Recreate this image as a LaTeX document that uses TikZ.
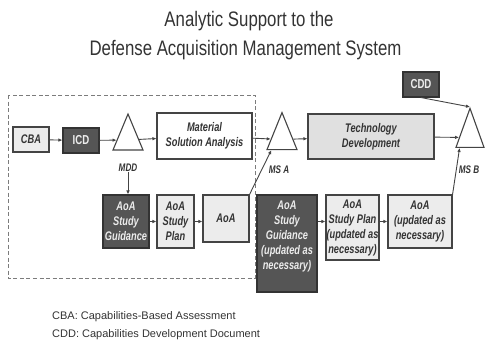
\documentclass[tikz,border=0pt]{standalone}
\usepackage{fontspec}
\usetikzlibrary{arrows.meta,shapes.geometric}
\setmainfont{Liberation Sans}
\newfontfamily\titlefont[FakeStretch=0.8]{Liberation Sans}
\newfontfamily\boxfont[FakeStretch=0.74]{Liberation Sans}
\definecolor{darkfill}{HTML}{555555}
\definecolor{lightfill}{HTML}{ECECEC}
\definecolor{midfill}{HTML}{E0E0E0}
\definecolor{edge}{HTML}{444444}
\definecolor{ink}{HTML}{333333}
\tikzset{
  base/.style={draw=edge, line width=1.1pt, inner sep=0pt, align=center,
    font=\boxfont\fontsize{12.5}{15}\selectfont\bfseries\itshape, text=ink},
  whitebox/.style={base, fill=white},
  lightbox/.style={base, fill=lightfill},
  darkbox/.style={base, fill=darkfill, draw=ink, text=lightfill},
  milestone/.style={draw=edge, line width=1.1pt, fill=white, isosceles triangle,
    isosceles triangle stretches, shape border rotate=90, inner sep=0pt},
  mslabel/.style={font=\boxfont\fontsize{11}{12}\selectfont\bfseries\itshape, text=ink, inner sep=0pt},
  flow/.style={draw=edge, line width=0.9pt, -{Latex[length=4pt,width=3.6pt]}},
  region/.style={draw=edge!70, line width=0.9pt, dash pattern=on 4pt off 2.5pt},
}
\begin{document}
\begin{tikzpicture}[x=1pt,y=-1pt]
\useasboundingbox (0,0) rectangle (485,343);

% title
\node[font=\titlefont\fontsize{21}{24}\selectfont, text=ink, anchor=base] (t1) at (249,26) {Analytic Support to the};
\node[font=\titlefont\fontsize{21}{24}\selectfont, text=ink, anchor=base] (t2) at (245.5,55) {Defense Acquisition Management System};

% scope of the analysis of alternatives before milestone A
\draw[region] (8,95) rectangle (255,278);

% top row
\node[lightbox, minimum width=36pt, minimum height=25pt] (cba) at (31,139.5) {CBA};
\node[darkbox, font=\boxfont\fontsize{13}{14}\selectfont\bfseries, minimum width=36pt, minimum height=25pt] (icd) at (81,140.5) {ICD};
\node[milestone, minimum width=30pt, minimum height=36pt] (mdd) at (128,140) {};
\node[mslabel] (mddlbl) at (128,168) {MDD};
\node[whitebox, minimum width=95pt, minimum height=46pt] (msa) at (204.5,136) {Material\\Solution Analysis};
\node[milestone, minimum width=30pt, minimum height=37pt] (msA) at (282,139.5) {};
\node[mslabel] (msAlbl) at (279,170) {MS A};
\node[lightbox, fill=midfill, minimum width=126pt, minimum height=45pt] (td) at (371,136.5) {Technology\\Development};
\node[milestone, minimum width=28pt, minimum height=39pt] (msB) at (470,137.5) {};
\node[mslabel] (msBlbl) at (469,170) {MS B};
\node[darkbox, font=\boxfont\fontsize{13}{14}\selectfont\bfseries, minimum width=36pt, minimum height=25pt] (cdd) at (421,84.5) {CDD};

% bottom row
\node[darkbox, minimum width=46pt, minimum height=53pt] (guid) at (126,221.5) {AoA\\Study\\Guidance};
\node[lightbox, minimum width=37pt, minimum height=53pt] (plan) at (175.5,221.5) {AoA\\Study\\Plan};
\node[lightbox, minimum width=46pt, minimum height=47pt] (aoa) at (226,218.5) {AoA};
\node[darkbox, minimum width=60pt, minimum height=97pt] (guid2) at (287,243.5) {AoA\\Study\\Guidance\\(updated as\\necessary)\rule[-17pt]{0pt}{0pt}};
\node[lightbox, minimum width=53pt, minimum height=65pt] (plan2) at (352.5,227.5) {AoA\\Study Plan\\(updated as\\necessary)};
\node[lightbox, minimum width=64pt, minimum height=53pt] (aoa2) at (420,221.5) {AoA\\(updated as\\necessary)};

% connectors
\draw[flow] (cba) -- (icd);
\draw[flow] (icd) -- (mdd);
\draw[flow] (mdd) -- (msa);
\draw[flow] (msa) -- (msA);
\draw[flow] (msA) -- (td);
\draw[flow] (td) -- (msB);
\draw[flow] (cdd.south) -- (msB.apex);
\draw[flow] (mddlbl.south) -- (mddlbl.south |- guid.north);
\draw[flow] (guid) -- (plan);
\draw[flow] (plan) -- (aoa.west |- plan);
\draw[flow] (aoa.north east) -- (msA.south west);
\draw[flow] (guid2.east |- aoa2) -- (plan2.west |- aoa2);
\draw[flow] (plan2.east |- aoa2) -- (aoa2);
\draw[flow] (aoa2.north east) -- (msB.south west);

% footnotes
\node[font=\fontsize{11}{13}\selectfont, text=ink, anchor=base west, inner sep=0pt] (n1) at (52,319) {CBA: Capabilities-Based Assessment};
\node[font=\fontsize{11}{13}\selectfont, text=ink, anchor=base west, inner sep=0pt] (n2) at (52,337) {CDD: Capabilities Development Document};
\end{tikzpicture}
\end{document}
